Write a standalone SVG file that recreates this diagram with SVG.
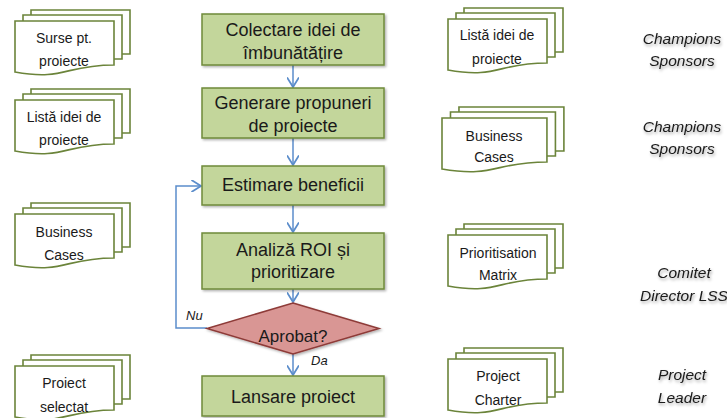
<svg xmlns="http://www.w3.org/2000/svg" xmlns:xlink="http://www.w3.org/1999/xlink" width="727" height="418" viewBox="0 0 727 418">
<defs>
<style>
.box{fill:#C3D69B;stroke:#6F8A3A;stroke-width:1.5;filter:url(#sh)}
.dia{fill:#D99694;stroke:#8E3B38;stroke-width:1.5;filter:url(#sh)}
.doc{fill:#fff;stroke:#6B843A;stroke-width:1.6;vector-effect:non-scaling-stroke}
.bt{font-family:"Liberation Sans",Arial,sans-serif;font-size:18px;fill:#1a1a1a;text-anchor:middle}
.dt{font-family:"Liberation Sans",Arial,sans-serif;font-size:14px;fill:#1a1a1a;text-anchor:middle}
.rt{font-family:"Liberation Sans",Arial,sans-serif;font-size:15.5px;font-style:italic;fill:#1a1a1a;text-anchor:middle;filter:url(#tsh)}
.lt{font-family:"Liberation Sans",Arial,sans-serif;font-size:13px;font-style:italic;fill:#1a1a1a}
.con{fill:none;stroke:#5B8DCB;stroke-width:1.5}
</style>
<filter id="sh" x="-10%" y="-10%" width="130%" height="140%">
<feDropShadow dx="1.5" dy="1.5" stdDeviation="1.2" flood-color="#000" flood-opacity="0.3"/>
</filter>
<filter id="tsh" x="-20%" y="-30%" width="140%" height="180%">
<feDropShadow dx="1" dy="2" stdDeviation="1.5" flood-color="#000" flood-opacity="0.35"/>
</filter>
<marker id="arr" markerUnits="userSpaceOnUse" markerWidth="12" markerHeight="12" refX="8" refY="5" orient="auto" viewBox="0 0 10 10">
<path d="M0,0 L8,5 L0,10" fill="none" stroke="#5B8DCB" stroke-width="1.5"/>
</marker>
<g id="mdoc">
<rect class="doc" x="16" y="-11" width="99" height="44"/>
<rect class="doc" x="8" y="-6" width="99" height="44"/>
<path class="doc" d="M0,0 H99 V44 C49.5,44 49.5,60 0,51 Z"/>
</g>
</defs>
<rect width="727" height="418" fill="#fff"/>

<g id="connectors">
<line class="con" x1="293" y1="65" x2="293" y2="87" marker-end="url(#arr)"/>
<line class="con" x1="293" y1="138" x2="293" y2="165" marker-end="url(#arr)"/>
<line class="con" x1="293" y1="205" x2="293" y2="232" marker-end="url(#arr)"/>
<line class="con" x1="293" y1="289" x2="293" y2="302" marker-end="url(#arr)"/>
<line class="con" x1="293" y1="354" x2="293" y2="375" marker-end="url(#arr)"/>
<polyline class="con" points="207,328 176,328 176,186 201,186" marker-end="url(#arr)"/>
<text class="lt" x="186" y="320">Nu</text>
<text class="lt" x="311" y="365">Da</text>
</g>

<g id="n1"><rect class="box" x="202" y="14" width="182" height="51"/>
<text class="bt" x="293" y="36">Colectare idei de</text><text class="bt" x="293" y="59">îmbunătățire</text></g>
<g id="n2"><rect class="box" x="202" y="88" width="182" height="50"/>
<text class="bt" x="293" y="109">Generare propuneri</text><text class="bt" x="293" y="132">de proiecte</text></g>
<g id="n3"><rect class="box" x="202" y="166" width="182" height="39"/>
<text class="bt" x="293" y="191">Estimare beneficii</text></g>
<g id="n4"><rect class="box" x="202" y="233" width="182" height="56"/>
<text class="bt" x="293" y="256">Analiză ROI și</text><text class="bt" x="293" y="278">prioritizare</text></g>
<g id="n5"><polygon class="dia" points="293,303 379,328.5 293,354 207,328.5"/>
<text class="bt" x="293" y="342" style="font-size:17px">Aprobat?</text></g>
<g id="n6"><rect class="box" x="202" y="376" width="182" height="40"/>
<text class="bt" x="293" y="403">Lansare proiect</text></g>

<g id="dl1"><use xlink:href="#mdoc" href="#mdoc" transform="translate(15,21)"/>
<text class="dt" x="64" y="43">Surse pt.</text><text class="dt" x="64" y="66">proiecte</text></g>
<g id="dl2"><use xlink:href="#mdoc" href="#mdoc" transform="translate(15,100)"/>
<text class="dt" x="64" y="122">Listă idei de</text><text class="dt" x="64" y="145">proiecte</text></g>
<g id="dl3"><use xlink:href="#mdoc" href="#mdoc" transform="translate(15,214)"/>
<text class="dt" x="64" y="237">Business</text><text class="dt" x="64" y="260">Cases</text></g>
<g id="dl4"><use xlink:href="#mdoc" href="#mdoc" transform="translate(15,366)"/>
<text class="dt" x="64" y="388">Proiect</text><text class="dt" x="64" y="412">selectat</text></g>

<g id="dr1"><use xlink:href="#mdoc" href="#mdoc" transform="translate(448,19)"/>
<text class="dt" x="497" y="40">Listă idei de</text><text class="dt" x="497" y="64">proiecte</text></g>
<g id="dr2"><use xlink:href="#mdoc" href="#mdoc" transform="translate(442,118) scale(1.06,1)"/>
<text class="dt" x="494" y="141">Business</text><text class="dt" x="494" y="162">Cases</text></g>
<g id="dr3"><use xlink:href="#mdoc" href="#mdoc" transform="translate(448,235)"/>
<text class="dt" x="498" y="258">Prioritisation</text><text class="dt" x="498" y="280">Matrix</text></g>
<g id="dr4"><use xlink:href="#mdoc" href="#mdoc" transform="translate(448,359)"/>
<text class="dt" x="498" y="381">Project</text><text class="dt" x="498" y="405">Charter</text></g>

<g id="roles">
<text class="rt" x="682" y="44">Champions</text><text class="rt" x="682" y="66">Sponsors</text>
<text class="rt" x="682" y="132">Champions</text><text class="rt" x="682" y="154">Sponsors</text>
<text class="rt" x="684" y="278">Comitet</text><text class="rt" x="684" y="301">Director LSS</text>
<text class="rt" x="682" y="380">Project</text><text class="rt" x="682" y="403">Leader</text>
</g>
</svg>
